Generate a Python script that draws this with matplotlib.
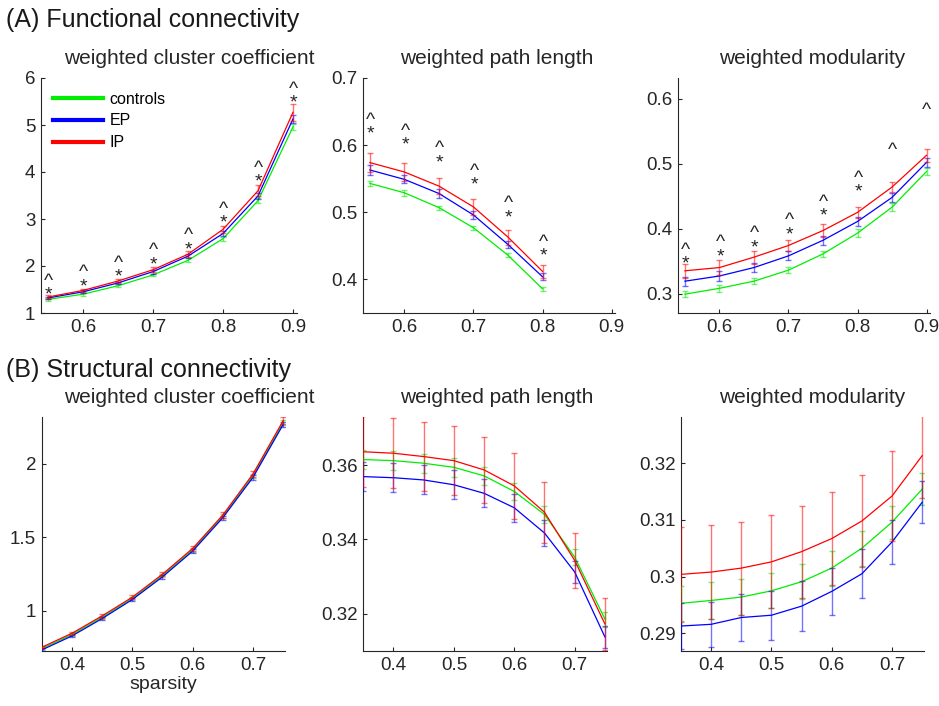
import matplotlib
matplotlib.use('Agg')
import matplotlib.pyplot as plt

plt.rcParams['font.family'] = ['Liberation Sans', 'DejaVu Sans']

# sparsity levels
x_fc = [0.55, 0.6, 0.65, 0.7, 0.75, 0.8, 0.85, 0.9]
x_fc_pl = [0.55, 0.6, 0.65, 0.7, 0.75, 0.8]
x_sc = [0.35, 0.4, 0.45, 0.5, 0.55, 0.6, 0.65, 0.7, 0.75]

groups = ['controls', 'EP', 'IP']
colors = ['#00ee00', '#0000ff', '#ff0000']

# (A) functional connectivity - weighted cluster coefficient
fc_clu = [[1.29, 1.40, 1.58, 1.81, 2.12, 2.58, 3.39, 4.96],
          [1.32, 1.45, 1.64, 1.88, 2.21, 2.69, 3.49, 5.13],
          [1.34, 1.48, 1.68, 1.92, 2.25, 2.78, 3.60, 5.27]]
fc_clu_err = [[0.03, 0.03, 0.03, 0.03, 0.04, 0.04, 0.05, 0.06],
              [0.03, 0.03, 0.03, 0.04, 0.04, 0.05, 0.06, 0.08],
              [0.04, 0.04, 0.05, 0.05, 0.06, 0.07, 0.12, 0.18]]
fc_clu_caret = [1.88, 2.02, 2.24, 2.47, 2.85, 3.34, 4.30, 5.84]
fc_clu_star = [1.52, 1.70, 1.90, 2.17, 2.49, 3.06, 3.92, 5.61]

# weighted path length
fc_pl = [[0.543, 0.529, 0.507, 0.477, 0.436, 0.386],
         [0.563, 0.549, 0.528, 0.496, 0.452, 0.404],
         [0.574, 0.560, 0.539, 0.508, 0.463, 0.412]]
fc_pl_err = [[0.004, 0.004, 0.003, 0.003, 0.003, 0.003],
             [0.007, 0.006, 0.006, 0.006, 0.005, 0.005],
             [0.014, 0.013, 0.012, 0.012, 0.011, 0.010]]
fc_pl_caret = [0.644, 0.628, 0.603, 0.568, 0.521, 0.462]
fc_pl_star = [0.626, 0.610, 0.584, 0.550, 0.502, 0.445]

# weighted modularity
fc_mod = [[0.299, 0.308, 0.319, 0.336, 0.361, 0.393, 0.433, 0.488],
          [0.319, 0.327, 0.340, 0.358, 0.382, 0.411, 0.448, 0.502],
          [0.335, 0.340, 0.356, 0.374, 0.397, 0.425, 0.464, 0.513]]
fc_mod_err = [[0.005, 0.005, 0.005, 0.005, 0.005, 0.006, 0.006, 0.006],
              [0.007, 0.007, 0.007, 0.007, 0.007, 0.007, 0.007, 0.007],
              [0.011, 0.011, 0.010, 0.009, 0.010, 0.009, 0.008, 0.010]]
fc_mod_caret = [0.375, 0.385, 0.396, 0.415, 0.447, 0.484, 0.530, 0.591]
fc_mod_star = [0.356, 0.367, 0.381, 0.401, 0.429, 0.466, None, None]

# (B) structural connectivity
sc_clu = [[0.744, 0.839, 0.957, 1.084, 1.240, 1.415, 1.642, 1.918, 2.278],
          [0.735, 0.830, 0.948, 1.077, 1.231, 1.406, 1.633, 1.907, 2.266],
          [0.753, 0.848, 0.966, 1.093, 1.249, 1.424, 1.651, 1.930, 2.292]]
sc_clu_err = [[0.010, 0.010, 0.010, 0.010, 0.012, 0.012, 0.014, 0.015, 0.016],
              [0.010, 0.010, 0.010, 0.010, 0.012, 0.012, 0.014, 0.015, 0.016],
              [0.012, 0.012, 0.013, 0.014, 0.015, 0.016, 0.018, 0.020, 0.025]]

sc_pl = [[0.3615, 0.3612, 0.3605, 0.3594, 0.3571, 0.3529, 0.3467, 0.3352, 0.3185],
         [0.3569, 0.3566, 0.3560, 0.3547, 0.3524, 0.3485, 0.3417, 0.3312, 0.3137],
         [0.3636, 0.3632, 0.3623, 0.3612, 0.3587, 0.3544, 0.3473, 0.3343, 0.3172]]
sc_pl_err = [[0.0025, 0.0025, 0.0025, 0.0025, 0.0025, 0.0024, 0.0022, 0.0022, 0.0020],
             [0.0040, 0.0039, 0.0039, 0.0039, 0.0038, 0.0038, 0.0034, 0.0030, 0.0030],
             [0.0096, 0.0094, 0.0094, 0.0093, 0.0090, 0.0088, 0.0082, 0.0075, 0.0070]]

sc_mod = [[0.2953, 0.2958, 0.2964, 0.2975, 0.2991, 0.3015, 0.3050, 0.3096, 0.3154],
          [0.2913, 0.2916, 0.2928, 0.2932, 0.2948, 0.2974, 0.3005, 0.3061, 0.3131],
          [0.3004, 0.3008, 0.3015, 0.3026, 0.3044, 0.3067, 0.3098, 0.3142, 0.3213]]
sc_mod_err = [[0.0031, 0.0032, 0.0031, 0.0031, 0.0031, 0.0031, 0.0031, 0.0029, 0.0028],
              [0.0040, 0.0040, 0.0042, 0.0043, 0.0044, 0.0042, 0.0043, 0.0038, 0.0037],
              [0.0084, 0.0083, 0.0082, 0.0082, 0.0081, 0.0082, 0.0081, 0.0080, 0.0075]]

titles = ['weighted cluster coefficient', 'weighted path length', 'weighted modularity']

fig = plt.figure(figsize=(9.39, 7.06), dpi=100)
W, H = 939.0, 706.0


def make_ax(left, top, right, bottom):
    return fig.add_axes([left / W, 1 - bottom / H, (right - left) / W, (bottom - top) / H])


def style(ax, xlim, ylim, xticks, yticks, ylabels):
    ax.set_xlim(xlim)
    ax.set_ylim(ylim)
    ax.set_xticks(xticks)
    ax.set_xticklabels([str(t) for t in xticks])
    ax.set_yticks(yticks)
    ax.set_yticklabels(ylabels)
    for s in ['top', 'right']:
        ax.spines[s].set_visible(False)
    for s in ['left', 'bottom']:
        ax.spines[s].set_color('#262626')
        ax.spines[s].set_linewidth(0.8)
    ax.tick_params(direction='in', length=3, width=0.8, colors='#262626',
                   labelsize=13.5, labelcolor='#262626', pad=4)


def draw(ax, x, vals, errs):
    for v, e, c in zip(vals, errs, colors):
        ax.plot(x, v, color=c, lw=0.9, zorder=3)
        ax.errorbar(x, v, yerr=e, fmt='none', ecolor=c, elinewidth=1.0,
                    capsize=2.2, capthick=1.0, alpha=0.55, zorder=3)


def marks(ax, x, caret, star):
    # '^' (and '*' below it when significant) above each sparsity level
    for xi, c, s in zip(x, caret, star):
        if s is not None:
            ax.annotate('^\n*', (xi, s), xytext=(0.5, -8), textcoords='offset points',
                        ha='center', va='baseline', fontsize=14, linespacing=0.75,
                        color='#262626')
        else:
            ax.annotate('^', (xi, c), xytext=(0, -7.5), textcoords='offset points',
                        ha='center', va='baseline', fontsize=14, color='#262626')


# top row
ax1 = make_ax(41, 78, 296.5, 313)
ax2 = make_ax(363, 78, 615, 313)
ax3 = make_ax(678, 78, 930, 313)
# bottom row
ax4 = make_ax(41.7, 416.5, 285, 651)
ax5 = make_ax(363.3, 416.5, 606.7, 651)
ax6 = make_ax(681, 416.5, 924, 651)

xl_fc = (0.54, 0.905)
xt_fc = [0.6, 0.7, 0.8, 0.9]

draw(ax1, x_fc, fc_clu, fc_clu_err)
style(ax1, xl_fc, (1, 6), xt_fc, [1, 2, 3, 4, 5, 6], ['1', '2', '3', '4', '5', '6'])
marks(ax1, x_fc, fc_clu_caret, fc_clu_star)

draw(ax2, x_fc_pl, fc_pl, fc_pl_err)
style(ax2, xl_fc, (0.35, 0.7), xt_fc, [0.4, 0.5, 0.6, 0.7], ['0.4', '0.5', '0.6', '0.7'])
marks(ax2, x_fc_pl, fc_pl_caret, fc_pl_star)

draw(ax3, x_fc, fc_mod, fc_mod_err)
style(ax3, xl_fc, (0.27, 0.632), xt_fc, [0.3, 0.4, 0.5, 0.6], ['0.3', '0.4', '0.5', '0.6'])
marks(ax3, x_fc, fc_mod_caret, fc_mod_star)

xl_sc = (0.35, 0.753)
xt_sc = [0.4, 0.5, 0.6, 0.7]

draw(ax4, x_sc, sc_clu, sc_clu_err)
style(ax4, xl_sc, (0.728, 2.32), xt_sc, [1, 1.5, 2], ['1', '1.5', '2'])
ax4.set_xlabel('sparsity', fontsize=14, color='#262626', labelpad=2)

draw(ax5, x_sc, sc_pl, sc_pl_err)
style(ax5, xl_sc, (0.3099, 0.3731), xt_sc, [0.32, 0.34, 0.36], ['0.32', '0.34', '0.36'])

draw(ax6, x_sc, sc_mod, sc_mod_err)
style(ax6, xl_sc, (0.2869, 0.3282), xt_sc, [0.29, 0.3, 0.31, 0.32], ['0.29', '0.3', '0.31', '0.32'])

# legend
handles = [plt.Line2D([], [], color=c, lw=3) for c in colors]
ax1.legend(handles, groups, loc='upper left', bbox_to_anchor=(0.035, 0.955), frameon=False,
           fontsize=11.5, handlelength=3.1, handletextpad=0.45, labelspacing=0.42,
           borderpad=0.2, borderaxespad=0)

# titles (placed at measured centres)
for cx, t in zip([189, 497, 812], titles):
    fig.text(cx / W, 1 - 58 / H, t, ha='center', va='center', fontsize=15, color='#262626')
    fig.text(cx / W, 1 - 398 / H, t, ha='center', va='center', fontsize=15, color='#262626')

fig.text(6 / W, 1 - 20 / H, '(A) Functional connectivity', ha='left', va='center',
         fontsize=18, color='#1a1a1a')
fig.text(6 / W, 1 - 370 / H, '(B) Structural connectivity', ha='left', va='center',
         fontsize=18, color='#1a1a1a')

fig.savefig('out.png', dpi=100)
